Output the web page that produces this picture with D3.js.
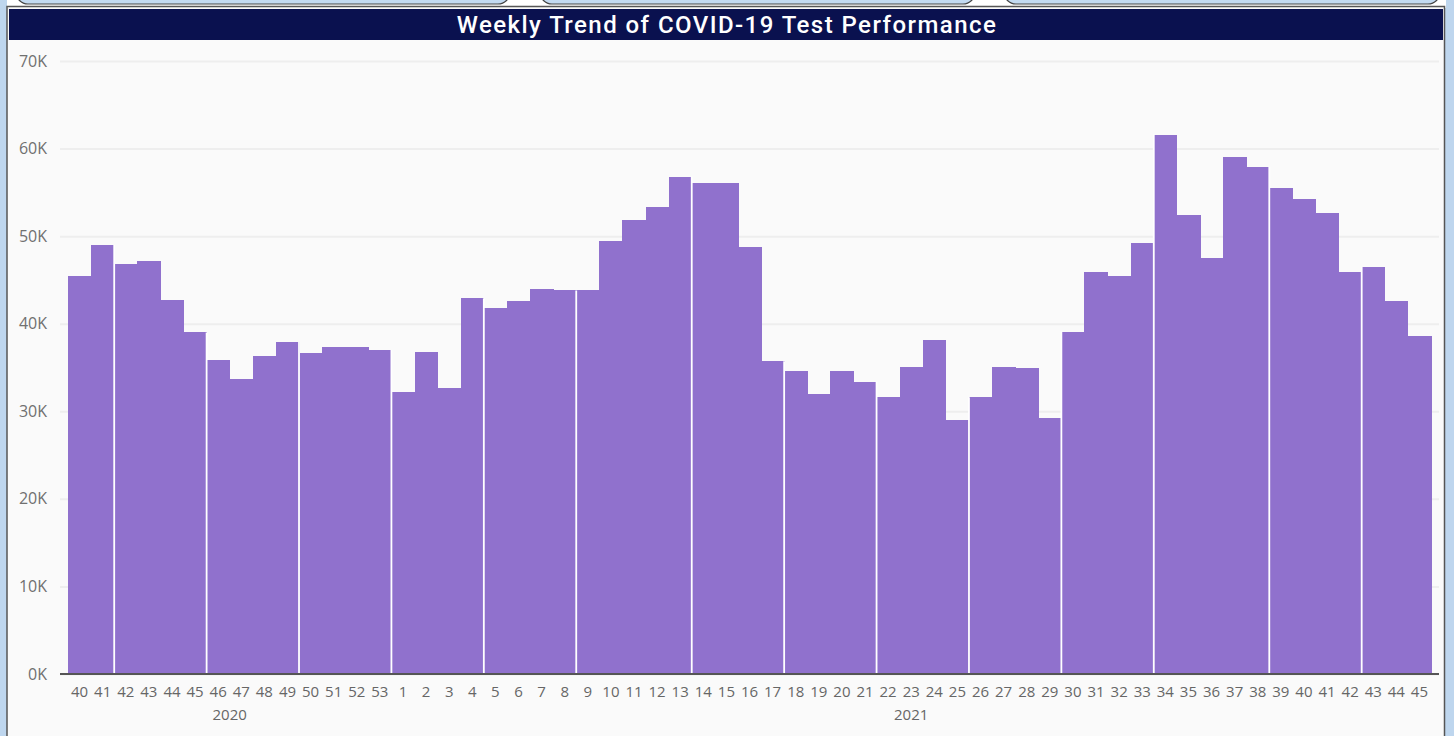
<!DOCTYPE html>
<html>
<head>
    <meta charset="utf-8">
    <title>Weekly Trend of COVID-19 Test Performance</title>
    <script src="https://d3js.org/d3.v7.min.js"></script>
    <style>
        body { margin: 0; background: #bed6ee; }
        svg { display: block; }
    </style>
</head>

<body>
<div id="chart"></div>

<script type="text/javascript">
	// week numbers per year (x tick labels)
	let weeks2020 = [40, 41, 42, 43, 44, 45, 46, 47, 48, 49, 50, 51, 52, 53];
	let weeks2021 = [1, 2, 3, 4, 5, 6, 7, 8, 9, 10, 11, 12, 13, 14, 15, 16, 17, 18, 19, 20,
	                 21, 22, 23, 24, 25, 26, 27, 28, 29, 30, 31, 32, 33, 34, 35, 36, 37, 38, 39, 40,
	                 41, 42, 43, 44, 45];

	// tests performed per week
	let tests2020 = [45500, 49000, 46800, 47200, 42700, 39000, 35900, 33700, 36300, 37900,
	                 36700, 37300, 37300, 37000];
	let tests2021 = [32200, 36800, 32700, 42900, 41800, 42600, 44000, 43800, 43800, 49400,
	                 51800, 53300, 56800, 56100, 56100, 48800, 35700, 34600, 32000, 34600,
	                 33400, 31600, 35100, 38100, 29000, 31600, 35100, 34900, 29200, 39100,
	                 45900, 45500, 49200, 61600, 52400, 47500, 59000, 57900, 55500, 54200,
	                 52600, 45900, 46500, 42600, 38600];

	// weeks where a new block starts (white divider on the left)
	let groupStarts2020 = [42, 46, 50];
	let groupStarts2021 = [1, 5, 9, 14, 18, 22, 26, 30, 34, 39, 43];

	let yTicks = [0, 10000, 20000, 30000, 40000, 50000, 60000, 70000];

	let dataset = [];
	weeks2020.forEach(function(w, i){
		dataset.push({year: "2020", week: w, tests: tests2020[i], start: groupStarts2020.indexOf(w) >= 0});
	});
	weeks2021.forEach(function(w, i){
		dataset.push({year: "2021", week: w, tests: tests2021[i], start: groupStarts2021.indexOf(w) >= 0});
	});
	dataset.forEach(function(d){ d.key = d.year + "-" + d.week; });

	let W = 1454, H = 736;
	let plot = {left: 68, right: 1431, top: 61, bottom: 674};

	let svg = d3.select("#chart")
	            .append("svg")
	                .attr("width", W)
	                .attr("height", H);

	// page / card frame
	svg.append("rect").attr("width", W).attr("height", H).attr("fill", "#bed6ee");
	svg.append("rect").attr("x", 7).attr("y", 0).attr("width", 1439).attr("height", 8).attr("fill", "#ffffff");
	[[16, 510], [540, 975], [1004, 1440]].forEach(function(s){
		svg.append("rect")
			.attr("x", s[0]).attr("y", -30)
			.attr("width", s[1] - s[0]).attr("height", 34)
			.attr("rx", 12)
			.attr("fill", "#c3daf1")
			.attr("stroke", "#444")
			.attr("stroke-width", 1.2);
	});
	svg.append("rect")
		.attr("x", 7).attr("y", 6.5)
		.attr("width", 1437.5).attr("height", 740)
		.attr("fill", "#fafafa")
		.attr("stroke", "#555")
		.attr("stroke-width", 1.5);

	svg.append("rect")
		.attr("x", 9).attr("y", 9)
		.attr("width", 1434).attr("height", 31)
		.attr("fill", "#0a114f");

	let title = svg.append("text")
		.attr("x", 727).attr("y", 33)
		.attr("text-anchor", "middle")
		.attr("font-family", "Roboto, sans-serif")
		.attr("font-weight", 500)
		.attr("font-size", "24px")
		.attr("fill", "#ffffff")
		.text("Weekly Trend of COVID-19 Test Performance");
	let tl = title.node().getComputedTextLength();
	title.attr("letter-spacing", ((539 - tl) / 40) + "px");

	let xScale = d3.scaleBand()
	                .domain(dataset.map(function(d){ return d.key; }))
	                .range([plot.left, plot.right])
	                .padding(0);

	let yScale = d3.scaleLinear()
	                .domain([0, 70000])
	                .range([plot.bottom, plot.top]);

	// y axis with gridlines
	let yAxis = d3.axisLeft()
	                .scale(yScale)
	                .tickValues(yTicks)
	                .tickSize(-1379)
	                .tickPadding(13)
	                .tickFormat(function(d){ return (d / 1000) + "K"; });

	let gy = svg.append("g")
		.attr("transform", "translate(60,0)")
		.call(yAxis);
	gy.select(".domain").remove();
	gy.selectAll(".tick line").attr("stroke", "#eeeeee").attr("stroke-width", 2);
	gy.selectAll(".tick text")
		.attr("font-family", "'Open Sans', sans-serif")
		.attr("font-size", "16px")
		.attr("fill", "#707070");

	// bars
	svg.selectAll("rect.bar")
        .data(dataset)
        .enter()
        .append("rect")
        .attr("class", "bar")
        .attr("x", function(d){ return xScale(d.key); })
        .attr("y", function(d){ return yScale(d.tests); })
        .attr("width", xScale.bandwidth() + 0.6)
        .attr("height", function(d){ return yScale(0) - yScale(d.tests); })
        .attr("fill", "#9071cd")
        .attr("shape-rendering", "crispEdges");

    // white dividers between blocks
    svg.selectAll("line.sep")
        .data(dataset.filter(function(d){ return d.start; }))
        .enter()
        .append("line")
        .attr("class", "sep")
        .attr("x1", function(d){ return xScale(d.key); })
        .attr("x2", function(d){ return xScale(d.key); })
        .attr("y1", yScale(0))
        .attr("y2", function(d){
        	let i = dataset.indexOf(d);
        	return yScale(Math.max(d.tests, dataset[i - 1].tests));
        })
        .attr("stroke", "#ffffff")
        .attr("stroke-width", 1.8);

	// x axis
	let xAxis = d3.axisBottom()
	                .scale(xScale)
	                .tickSize(0)
	                .tickPadding(12)
	                .tickFormat(function(k){ return k.split("-")[1]; });

	let gx = svg.append("g")
		.attr("transform", "translate(0," + plot.bottom + ")")
		.call(xAxis);
	gx.select(".domain").remove();
	gx.selectAll(".tick text")
		.attr("font-family", "'Open Sans', sans-serif")
		.attr("font-size", "15px")
		.attr("fill", "#666");

	svg.append("line")
		.attr("x1", 60).attr("x2", 1439)
		.attr("y1", plot.bottom).attr("y2", plot.bottom)
		.attr("stroke", "#555")
		.attr("stroke-width", 2);

	// year labels under their weeks
	["2020", "2021"].forEach(function(yr){
		let keys = dataset.filter(function(d){ return d.year == yr; }).map(function(d){ return d.key; });
		let x0 = xScale(keys[0]);
		let x1 = xScale(keys[keys.length - 1]) + xScale.bandwidth();
		svg.append("text")
			.attr("x", (x0 + x1) / 2)
			.attr("y", 720)
			.attr("text-anchor", "middle")
			.attr("font-family", "'Open Sans', sans-serif")
			.attr("font-size", "15px")
			.attr("fill", "#666")
			.text(yr);
	});
</script>
</body>
</html>
